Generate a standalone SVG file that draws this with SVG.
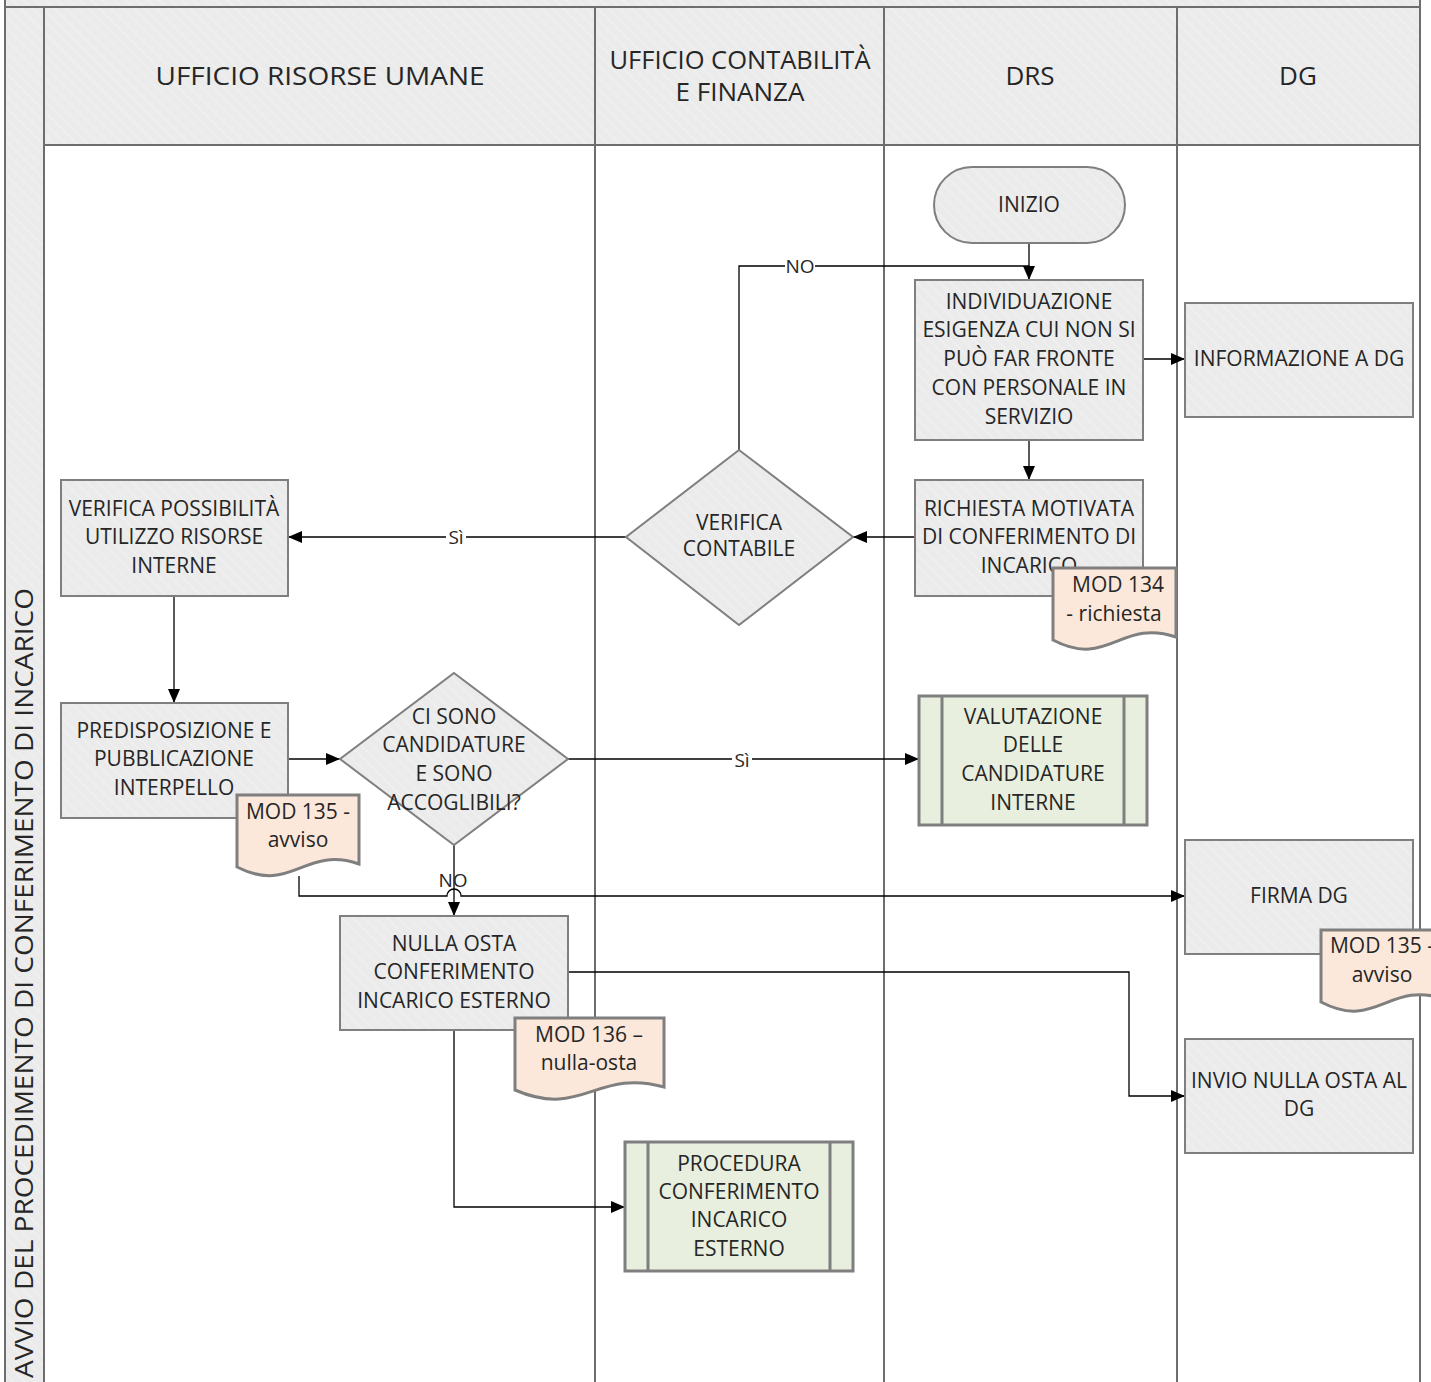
<svg xmlns="http://www.w3.org/2000/svg" width="1431" height="1382" viewBox="0 0 1431 1382">
<style>
text{font-family:"Open Sans","DejaVu Sans",sans-serif;fill:#262626;text-anchor:middle}
.hdr{font-size:26px}
.nt{font-size:21px}
.lb{font-size:19px}
.box{fill:url(#hatch);stroke:#7f7f7f;stroke-width:2}
.doc{fill:#fbe8da;stroke:#7f7f7f;stroke-width:3}
.sub{fill:#e8efdf;stroke:#7f7f7f;stroke-width:3}
.lane{stroke:#6d6d6d;stroke-width:2;fill:none}
.cn{stroke:#000;stroke-width:1.3;fill:none}
.arr{marker-end:url(#ah)}
</style>
<defs>
<pattern id="hatch" width="8" height="8" patternUnits="userSpaceOnUse" patternTransform="rotate(-45)">
<rect width="8" height="8" fill="#ebebeb"/>
<line x1="0" y1="0" x2="0" y2="8" stroke="#f3f3f3" stroke-width="1.5"/>
</pattern>
<marker id="ah" markerUnits="userSpaceOnUse" markerWidth="14" markerHeight="12" viewBox="0 0 14 12" refX="14" refY="6" orient="auto">
<path d="M0,0 L14,6 L0,12 z" fill="#000"/>
</marker>
</defs>
<rect width="1431" height="1382" fill="#fff"/>
<g id="pool">
<rect x="5" y="0" width="1415" height="7" fill="url(#hatch)"/>
<rect x="5" y="7" width="39" height="1375" fill="url(#hatch)"/>
<rect x="44" y="7" width="1376" height="138" fill="url(#hatch)"/>
<path class="lane" d="M5,0 V1382 M44,7 V1382 M1420,0 V1382 M5,7 H1420 M44,145 H1420 M595,7 V1382 M884,7 V1382 M1177,7 V1382"/>
<text class="hdr" transform="translate(33,983) rotate(-90)" textLength="790" lengthAdjust="spacingAndGlyphs">AVVIO DEL PROCEDIMENTO DI CONFERIMENTO DI INCARICO</text>
<text class="hdr" x="320" y="85" textLength="329" lengthAdjust="spacingAndGlyphs">UFFICIO RISORSE UMANE</text>
<text class="hdr"><tspan x="740" y="69" textLength="261" lengthAdjust="spacingAndGlyphs">UFFICIO CONTABILITÀ</tspan><tspan x="740" y="101">E FINANZA</tspan></text>
<text class="hdr" x="1030" y="85">DRS</text>
<text class="hdr" x="1298" y="85">DG</text>
</g>
<g id="connectors">
<path class="cn arr" d="M1029,243 V280"/>
<path class="cn" d="M739,450 V266 H1029 V272"/>
<path class="cn arr" d="M1143,359 H1185"/>
<path class="cn arr" d="M1029,440 V480"/>
<path class="cn arr" d="M915,537 H853"/>
<path class="cn arr" d="M626,537 H288"/>
<path class="cn arr" d="M174,596 V703"/>
<path class="cn arr" d="M288,759 H340"/>
<path class="cn arr" d="M568,759 H919"/>
<path class="cn arr" d="M454,845 V916"/>
<path class="cn arr" d="M299,876 V896 H447 A7,7 0 0 1 461,896 H1185"/>
<path class="cn arr" d="M568,972 H1129 V1096 H1185"/>
<path class="cn arr" d="M454,1030 V1207 H625"/>
<rect x="785" y="256" width="30" height="20" fill="#fff"/>
<text class="lb" x="800" y="273">NO</text>
<rect x="446" y="527" width="20" height="20" fill="#fff"/>
<text class="lb" x="456" y="544">Sì</text>
<rect x="732" y="750" width="20" height="20" fill="#fff"/>
<text class="lb" x="742" y="767">Sì</text>
<text class="lb" x="453" y="887">NO</text>
</g>
<g id="n-inizio">
<rect class="box" x="934" y="167" width="191" height="76" rx="38"/>
<text class="nt" x="1029" y="212">INIZIO</text>
</g>
<g id="n-individuazione">
<rect class="box" x="915" y="280" width="228" height="160"/>
<text class="nt" x="1029" y="309">INDIVIDUAZIONE</text>
<text class="nt" x="1029" y="337">ESIGENZA CUI NON SI</text>
<text class="nt" x="1029" y="366">PUÒ  FAR FRONTE</text>
<text class="nt" x="1029" y="395">CON PERSONALE IN</text>
<text class="nt" x="1029" y="424">SERVIZIO</text>
</g>
<g id="n-informazione">
<rect class="box" x="1185" y="303" width="228" height="114"/>
<text class="nt" x="1299" y="366">INFORMAZIONE A DG</text>
</g>
<g id="n-richiesta">
<rect class="box" x="915" y="480" width="228" height="116"/>
<text class="nt" x="1029" y="516">RICHIESTA MOTIVATA</text>
<text class="nt" x="1029" y="544">DI CONFERIMENTO DI</text>
<text class="nt" x="1029" y="573">INCARICO</text>
</g>
<g id="d-mod134">
<path class="doc" d="M1053,568 H1176 V637 C1121,618 1108,669 1053,640 Z"/>
<text class="nt" x="1118" y="592">MOD 134</text>
<text class="nt" x="1114" y="621">- richiesta</text>
</g>
<g id="n-verifica-contabile">
<path class="box" d="M739,450 L853,537 L739,625 L626,537 Z"/>
<text class="nt" x="739" y="530">VERIFICA</text>
<text class="nt" x="739" y="556">CONTABILE</text>
</g>
<g id="n-verifica-possibilita">
<rect class="box" x="61" y="480" width="227" height="116"/>
<text class="nt" x="174" y="516">VERIFICA POSSIBILITÀ</text>
<text class="nt" x="174" y="544">UTILIZZO RISORSE</text>
<text class="nt" x="174" y="573">INTERNE</text>
</g>
<g id="n-predisposizione">
<rect class="box" x="61" y="703" width="227" height="115"/>
<text class="nt" x="174" y="738">PREDISPOSIZIONE E</text>
<text class="nt" x="174" y="766">PUBBLICAZIONE</text>
<text class="nt" x="174" y="795">INTERPELLO</text>
</g>
<g id="d-mod135a">
<path class="doc" d="M237,795 H359 V864 C304,845 292,895 237,867 Z"/>
<text class="nt" x="298" y="819">MOD 135 -</text>
<text class="nt" x="298" y="847">avviso</text>
</g>
<g id="n-ci-sono">
<path class="box" d="M454,673 L568,759 L454,845 L340,759 Z"/>
<text class="nt" x="454" y="724">CI SONO</text>
<text class="nt" x="454" y="752">CANDIDATURE</text>
<text class="nt" x="454" y="781">E SONO</text>
<text class="nt" x="454" y="810">ACCOGLIBILI?</text>
</g>
<g id="n-valutazione">
<rect class="sub" x="919" y="696" width="228" height="129"/>
<path class="sub" d="M942,696 V825 M1124,696 V825"/>
<text class="nt" x="1033" y="724">VALUTAZIONE</text>
<text class="nt" x="1033" y="752">DELLE</text>
<text class="nt" x="1033" y="781">CANDIDATURE</text>
<text class="nt" x="1033" y="810">INTERNE</text>
</g>
<g id="n-firma">
<rect class="box" x="1185" y="840" width="228" height="114"/>
<text class="nt" x="1299" y="903">FIRMA DG</text>
</g>
<g id="d-mod135b">
<path class="doc" d="M1321,930 H1444 V999 C1389,980 1376,1031 1321,1002 Z"/>
<text class="nt" x="1382" y="953">MOD 135 -</text>
<text class="nt" x="1382" y="982">avviso</text>
</g>
<g id="n-nulla-osta">
<rect class="box" x="340" y="916" width="228" height="114"/>
<text class="nt" x="454" y="951">NULLA OSTA</text>
<text class="nt" x="454" y="979">CONFERIMENTO</text>
<text class="nt" x="454" y="1008">INCARICO ESTERNO</text>
</g>
<g id="d-mod136">
<path class="doc" d="M515,1018 H664 V1087 C597,1068 582,1119 515,1090 Z"/>
<text class="nt" x="589" y="1042">MOD 136 –</text>
<text class="nt" x="589" y="1070">nulla-osta</text>
</g>
<g id="n-invio">
<rect class="box" x="1185" y="1039" width="228" height="114"/>
<text class="nt" x="1299" y="1088">INVIO NULLA OSTA AL</text>
<text class="nt" x="1299" y="1116">DG</text>
</g>
<g id="n-procedura">
<rect class="sub" x="625" y="1142" width="228" height="129"/>
<path class="sub" d="M648,1142 V1271 M830,1142 V1271"/>
<text class="nt" x="739" y="1171">PROCEDURA</text>
<text class="nt" x="739" y="1199">CONFERIMENTO</text>
<text class="nt" x="739" y="1227">INCARICO</text>
<text class="nt" x="739" y="1256">ESTERNO</text>
</g>
</svg>
